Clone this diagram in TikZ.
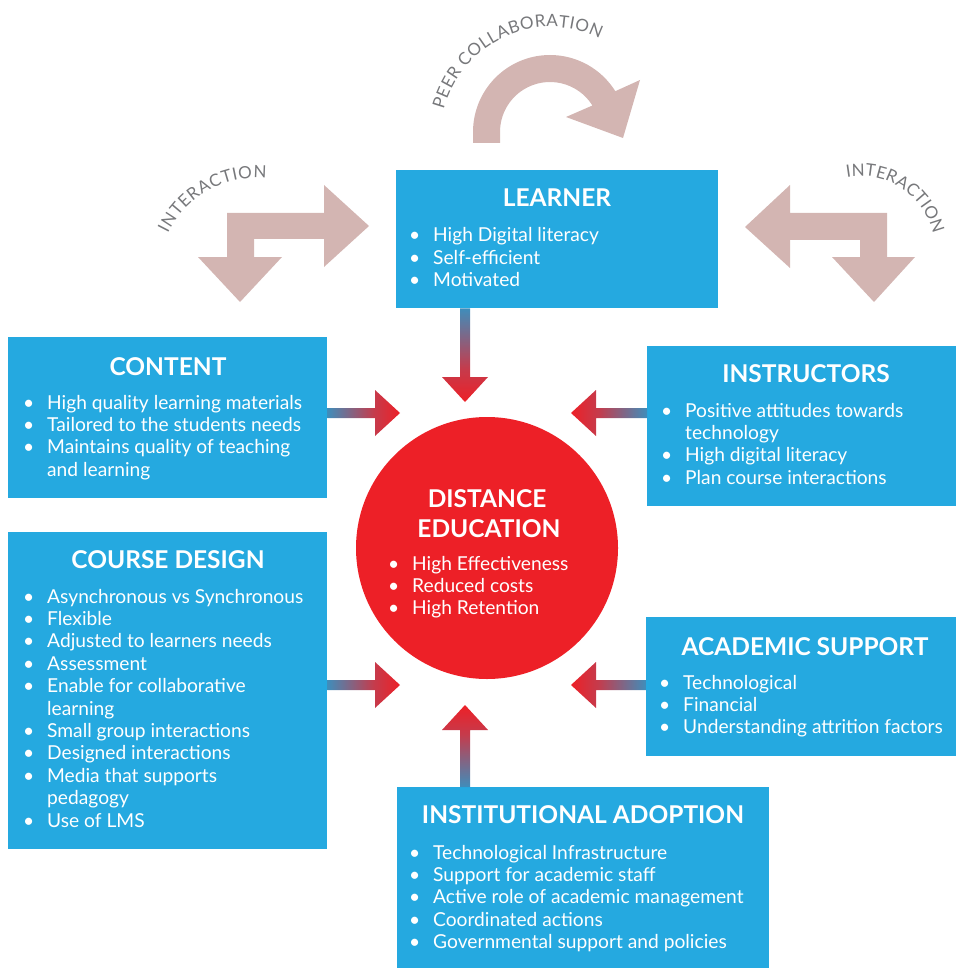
\documentclass[tikz,border=0pt]{standalone}
\usepackage{fontspec}
\setmainfont{Lato}
\usetikzlibrary{calc,decorations.text}
\definecolor{boxblue}{HTML}{25A9E0}
\definecolor{dered}{HTML}{ED2027}
\definecolor{pinkgrey}{HTML}{D3B5B2}
\definecolor{labgrey}{HTML}{77787B}
\colorlet{shaftblue}{boxblue!85!dered!95!black}
\colorlet{midred}{dered!80!boxblue}
\pgfdeclarehorizontalshading{arrshade}{100bp}{color(0bp)=(shaftblue); color(25bp)=(shaftblue); color(57bp)=(midred); color(75bp)=(dered); color(100bp)=(dered)}
\newcommand\itm[1]{\leavevmode\llap{\textbullet\hspace{13pt}}#1}
\newcommand\blist[1]{\parbox[t]{330pt}{\fontsize{19.2}{22.4}\selectfont\raggedright #1}}
\newcommand\arrR[2]{\shade[shading=arrshade] ($(#1 |- #2)+(0,-5)$) -- ($(#2)+(-25,-5)$) -- ($(#2)+(-25,-23)$) -- (#2) -- ($(#2)+(-25,23)$) -- ($(#2)+(-25,5)$) -- ($(#1 |- #2)+(0,5)$) -- cycle;}
\newcommand\arrL[2]{\shade[shading=arrshade,shading angle=180] ($(#1 |- #2)+(0,-5)$) -- ($(#2)+(25,-5)$) -- ($(#2)+(25,-23)$) -- (#2) -- ($(#2)+(25,23)$) -- ($(#2)+(25,5)$) -- ($(#1 |- #2)+(0,5)$) -- cycle;}
\newcommand\arrD[2]{\shade[shading=arrshade,shading angle=-90] ($(#2 |- #1)+(-5,0)$) -- ($(#2)+(-5,-25)$) -- ($(#2)+(-23,-25)$) -- (#2) -- ($(#2)+(23,-25)$) -- ($(#2)+(5,-25)$) -- ($(#2 |- #1)+(5,0)$) -- cycle;}
\newcommand\arrU[2]{\shade[shading=arrshade,shading angle=90] ($(#2 |- #1)+(-5,0)$) -- ($(#2)+(-5,25)$) -- ($(#2)+(-23,25)$) -- (#2) -- ($(#2)+(23,25)$) -- ($(#2)+(5,25)$) -- ($(#2 |- #1)+(5,0)$) -- cycle;}
\tikzset{
  box/.style={fill=boxblue, draw=none, rectangle, anchor=north west, inner sep=0pt},
  ttl/.style={anchor=base, text=white, inner sep=0pt, font=\fontsize{24.5}{24.5}\selectfont\bfseries},
  lst/.style={anchor=base west, text=white, inner sep=0pt},
  curvlab/.style={decorate, decoration={text along path, text align=fit to path,
      text={|\fontsize{17}{17}\selectfont\color{labgrey}|#1}}}
}
\begin{document}
\begin{tikzpicture}[x=1pt,y=-1pt]
\useasboundingbox (0,0) rectangle (956,968);
% boxes
\node[box, minimum width=322pt, minimum height=138pt] (learner) at (396,170) {};
\node[box, minimum width=319pt, minimum height=161pt] (content) at (8,337) {};
\node[box, minimum width=309pt, minimum height=160pt] (instr) at (647,346) {};
\node[box, minimum width=319pt, minimum height=317pt] (course) at (8,532) {};
\node[box, minimum width=310pt, minimum height=139pt] (acad) at (646,617) {};
\node[box, minimum width=372pt, minimum height=181pt] (inst) at (397,787) {};
\node[circle, fill=dered, minimum size=262pt, inner sep=0pt] (de) at (487,548) {};

% titles
\node[ttl] (learnerT) at (557,207) {LEARNER};
\node[ttl] (contentT) at (168,375) {CONTENT};
\node[ttl] (instrT) at (806,382) {INSTRUCTORS};
\node[ttl] (courseT) at (168,568) {COURSE DESIGN};
\node[ttl] (acadT) at (805,655) {ACADEMIC SUPPORT};
\node[ttl] (instT) at (583,823) {INSTITUTIONAL ADOPTION};
\node[ttl] (deT1) at (487,507) {DISTANCE};
\node[ttl] (deT2) at (489,537) {EDUCATION};

% lists
\node[lst] (learnerL) at (433,242) {\blist{\itm{High Digital literacy}\\\itm{Self-efficient}\\\itm{Motivated}}};
\node[lst] (contentL) at (47,409) {\blist{\itm{High quality learning materials}\\\itm{Tailored to the students needs}\\\itm{Maintains quality of teaching}\\and learning}};
\node[lst] (instrL) at (685,417) {\blist{\itm{Positive attitudes towards}\\technology\\\itm{High digital literacy}\\\itm{Plan course interactions}}};
\node[lst] (courseL) at (47,603) {\blist{\itm{Asynchronous vs Synchronous}\\\itm{Flexible}\\\itm{Adjusted to learners needs}\\\itm{Assessment}\\\itm{Enable for collaborative}\\learning\\\itm{Small group interactions}\\\itm{Designed interactions}\\\itm{Media that supports}\\pedagogy\\\itm{Use of LMS}}};
\node[lst] (acadL) at (683,689) {\blist{\itm{Technological}\\\itm{Financial}\\\itm{Understanding attrition factors}}};
\node[lst] (instL) at (433,859) {\blist{\itm{Technological Infrastructure}\\\itm{Support for academic staff}\\\itm{Active role of academic management}\\\itm{Coordinated actions}\\\itm{Governmental support and policies}}};
\node[lst] (deL) at (412,570) {\blist{\itm{High Effectiveness}\\\itm{Reduced costs}\\\itm{High Retention}}};

% gradient connectors
\coordinate (tipLearner) at (465,402);
\coordinate (tipContent) at (400,413);
\coordinate (tipInstr) at (571,413);
\coordinate (tipCourse) at (400,685);
\coordinate (tipAcad) at (571,685);
\coordinate (tipInst) at (465,705);
\arrD{learner.south}{tipLearner}
\arrR{content.east}{tipContent}
\arrL{instr.west}{tipInstr}
\arrR{course.east}{tipCourse}
\arrL{acad.west}{tipAcad}
\arrU{inst.north}{tipInst}

% interaction arrows
\fill[pinkgrey] (227,213) -- (324,213) -- (324,185) -- (369,226) -- (324,267) -- (324,239) -- (254,239) -- (254,257) -- (282,257) -- (240,302) -- (198,257) -- (227,257) -- cycle;
\fill[pinkgrey] (790,213) -- (887,213) -- (887,257) -- (915,257) -- (874,302) -- (832,257) -- (860,257) -- (860,240) -- (790,240) -- (790,268) -- (745,227) -- (790,185) -- cycle;
% peer collaboration arrow
\fill[pinkgrey] (473,143) -- (473,132) arc[start angle=180, end angle=328, radius=77] -- (640,80) -- (623,138) -- (566,117) -- ($(550,132)+(-32:50)$) arc[start angle=328, end angle=180, radius=50] -- (500,143) -- cycle;

% curved labels
\path[curvlab={PEER COLLABORATION}] (551,138) ++(-165:111) arc[start angle=-165, end angle=-64, radius=111];
\path[curvlab={INTERACTION}] (256,276) ++(-154:98) arc[start angle=-154, end angle=-84, radius=98];
\path[curvlab={INTERACTION}] (860,251) ++(-100:75) arc[start angle=-100, end angle=-13, radius=75];
\end{tikzpicture}
\end{document}
